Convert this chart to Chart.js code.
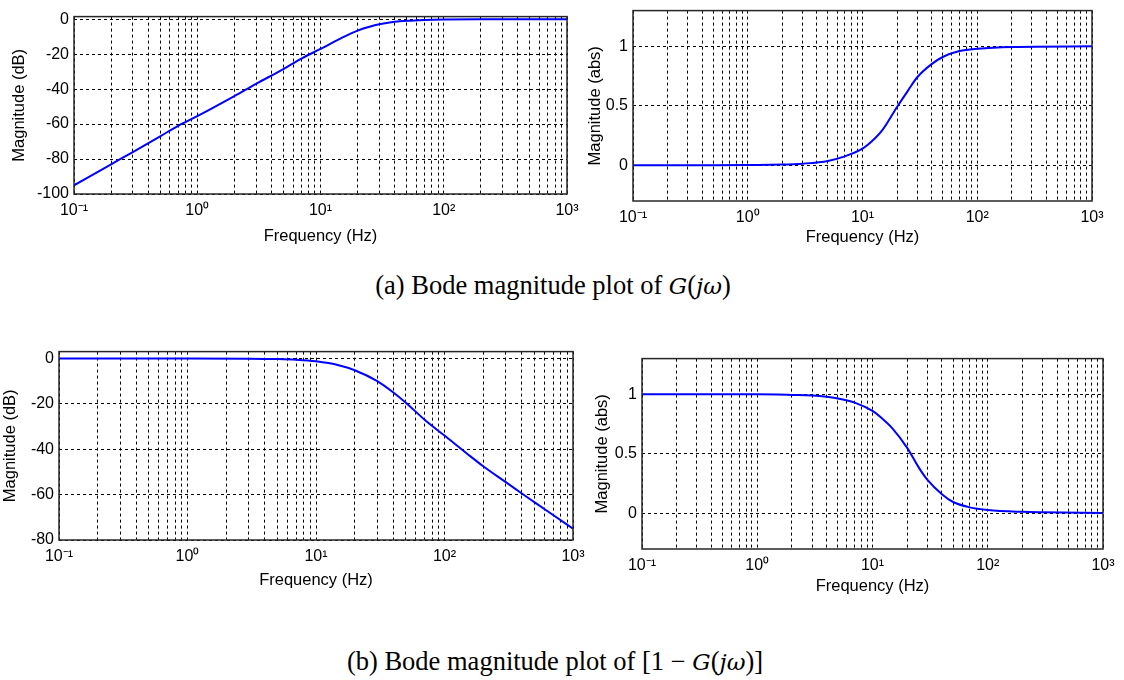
<!DOCTYPE html>
<html>
<head>
<meta charset="utf-8">
<title>Bode magnitude plots</title>
<script src="https://cdn.jsdelivr.net/npm/chart.js@4.4.1/dist/chart.umd.min.js"></script>
<style>
    html, body { margin: 0; padding: 0; background: #fff; }
    #page { position: relative; width: 1124px; height: 680px; overflow: hidden; background: #fff; }
    #page canvas { position: absolute; }
    .caption {
        position: absolute;
        left: 0;
        text-align: center;
        white-space: nowrap;
        color: #000;
        font-family: 'Liberation Serif', 'Times New Roman', serif;
        font-size: 26.5px;
        line-height: 30px;
    }
    .caption i { font-family: 'DejaVu Serif', serif; font-size: 23px; }
</style>
</head>
<body>
<div id="page">
    <div class="caption" style="top: 270px; width: 1106px;">(a) Bode magnitude plot of <i>G</i>(<i>jω</i>)</div>
    <div class="caption" style="top: 646px; width: 1110px;">(b) Bode magnitude plot of [1 − <i>G</i>(<i>jω</i>)]</div>
</div>
<script>
// G(jw) in dB
const freqGdB = [0.1, 0.2, 0.3, 0.5, 0.7, 1, 2, 3, 5, 7, 10, 15, 20, 25, 30, 40, 50, 70, 100, 200, 1000];
const magGdB = [-95, -83, -76, -67, -61, -55.5, -44, -37, -28.5, -22.5, -17, -10.5, -6.5, -4.3, -2.9, -1.5, -0.9, -0.4, -0.15, 0, 0];

// |G(jw)| absolute
const freqGabs = [0.1, 0.5, 1, 2, 3, 5, 7, 10, 12, 15, 20, 25, 30, 40, 50, 70, 100, 200, 1000];
const magGabs = [0, 0, 0.002, 0.006, 0.014, 0.037, 0.075, 0.14, 0.2, 0.3, 0.49, 0.63, 0.74, 0.85, 0.91, 0.96, 0.98, 0.995, 1];

// 1 - G(jw) in dB
const freqHdB = [0.1, 1, 3, 5, 7, 10, 15, 20, 30, 40, 50, 70, 100, 150, 200, 300, 400, 500, 700, 1000];
const magHdB = [0, 0, -0.1, -0.3, -0.6, -1.3, -3, -5.2, -10, -15, -19.5, -27, -34, -42, -47.5, -54.5, -59.5, -63.3, -69, -75];

// |1 - G(jw)| absolute
const freqHabs = [0.1, 1, 2, 3, 5, 7, 10, 12, 15, 20, 25, 30, 40, 50, 70, 100, 200, 300, 1000];
const magHabs = [1, 1, 0.995, 0.99, 0.965, 0.93, 0.86, 0.8, 0.71, 0.55, 0.39, 0.28, 0.16, 0.095, 0.05, 0.028, 0.012, 0.008, 0.002];

// axis ticks
const decades = [0.1, 1, 10, 100, 1000];
const decadeLabels = ['10⁻¹', '10⁰', '10¹', '10²', '10³'];
const dbTicksG = [-100, -80, -60, -40, -20, 0];
const dbTicksH = [-80, -60, -40, -20, 0];
const absTicks = [0, 0.5, 1];

document.addEventListener('DOMContentLoaded', () => {
    const page = document.getElementById('page');

    const TICK_FONT = { family: "'Liberation Sans', Arial, sans-serif", size: 16 };
    const TITLE_FONT = { family: "'Liberation Sans', Arial, sans-serif", size: 16.5 };
    const PAD_TOP = 12;
    const PAD_RIGHT = 24;

    // log grid: 1..9 in every decade, plus the last decade line
    const xGrid = [];
    decades.slice(0, -1).forEach(d => {
        for (let k = 1; k <= 9; k++) xGrid.push(d * k);
    });
    xGrid.push(decades[decades.length - 1]);

    function decadeLabel(v) {
        const i = decades.findIndex(d => Math.abs(v / d - 1) < 1e-6);
        return i >= 0 ? decadeLabels[i] : '';
    }

    // closed box round the plot area
    const boxFrame = {
        id: 'boxFrame',
        afterDraw(chart) {
            const { ctx, chartArea: a } = chart;
            ctx.save();
            ctx.strokeStyle = '#262626';
            ctx.lineWidth = 1.5;
            ctx.setLineDash([]);
            ctx.strokeRect(a.left, a.top, a.right - a.left, a.bottom - a.top);
            ctx.restore();
        }
    };

    function makePanel(p) {
        const lh = TITLE_FONT.size * 1.2;
        const x0 = Math.round(p.yTitleX - lh / 2);
        const y1 = Math.round(p.xTitleY + lh / 2);
        const y0 = p.box.t - PAD_TOP;
        const x1 = p.box.r + PAD_RIGHT;

        const canvas = document.createElement('canvas');
        canvas.width = x1 - x0;
        canvas.height = y1 - y0;
        canvas.style.left = x0 + 'px';
        canvas.style.top = y0 + 'px';
        canvas.style.width = (x1 - x0) + 'px';
        canvas.style.height = (y1 - y0) + 'px';
        page.appendChild(canvas);

        return new Chart(canvas.getContext('2d'), {
            type: 'line',
            data: {
                datasets: [{
                    data: p.freq.map((f, i) => ({ x: f, y: p.mag[i] })),
                    borderColor: '#0000ff',
                    borderWidth: 2,
                    pointRadius: 0,
                    fill: false,
                    cubicInterpolationMode: 'monotone'
                }]
            },
            options: {
                responsive: false,
                animation: false,
                events: [],
                layout: { padding: { left: 0, top: PAD_TOP, right: PAD_RIGHT, bottom: 0 } },
                plugins: {
                    legend: { display: false },
                    tooltip: { enabled: false }
                },
                scales: {
                    x: {
                        type: 'logarithmic',
                        min: decades[0],
                        max: decades[decades.length - 1],
                        afterBuildTicks: s => { s.ticks = xGrid.map(v => ({ value: v })); },
                        afterFit: s => { s.height = y1 - p.box.b; },
                        ticks: {
                            autoSkip: false,
                            maxRotation: 0,
                            padding: 7,
                            color: '#000',
                            font: TICK_FONT,
                            callback: v => decadeLabel(v)
                        },
                        grid: { color: '#000', lineWidth: 1, drawTicks: false },
                        border: { display: false, dash: [3, 3] },
                        title: { display: true, text: 'Frequency (Hz)', color: '#000', font: TITLE_FONT, padding: 0 }
                    },
                    y: {
                        type: 'linear',
                        min: p.yMin,
                        max: p.yMax,
                        afterBuildTicks: s => { s.ticks = p.yTicks.map(v => ({ value: v })); },
                        afterFit: s => { s.width = p.box.l - x0; },
                        ticks: {
                            padding: 5,
                            color: '#000',
                            font: TICK_FONT,
                            callback: v => String(v)
                        },
                        grid: { color: '#000', lineWidth: 1, drawTicks: false },
                        border: { display: false, dash: [3, 3] },
                        title: { display: true, text: p.yTitle, color: '#000', font: TITLE_FONT, padding: 0 }
                    }
                }
            },
            plugins: [boxFrame]
        });
    }

    // (a) G(jw)
    makePanel({
        freq: freqGdB, mag: magGdB, yTicks: dbTicksG, yMin: -100, yMax: 1.5,
        yTitle: 'Magnitude (dB)',
        box: { l: 74, t: 14, r: 567, b: 194 }, yTitleX: 20, xTitleY: 236
    });
    makePanel({
        freq: freqGabs, mag: magGabs, yTicks: absTicks, yMin: -0.3, yMax: 1.3,
        yTitle: 'Magnitude (abs)',
        box: { l: 633, t: 8, r: 1092, b: 201 }, yTitleX: 596, xTitleY: 237
    });

    // (b) 1 - G(jw)
    makePanel({
        freq: freqHdB, mag: magHdB, yTicks: dbTicksH, yMin: -80, yMax: 3,
        yTitle: 'Magnitude (dB)',
        box: { l: 59, t: 349, r: 573, b: 540 }, yTitleX: 11, xTitleY: 580
    });
    makePanel({
        freq: freqHabs, mag: magHabs, yTicks: absTicks, yMin: -0.3, yMax: 1.3,
        yTitle: 'Magnitude (abs)',
        box: { l: 642, t: 356, r: 1103, b: 549 }, yTitleX: 603, xTitleY: 586
    });
});
</script>
</body>
</html>
